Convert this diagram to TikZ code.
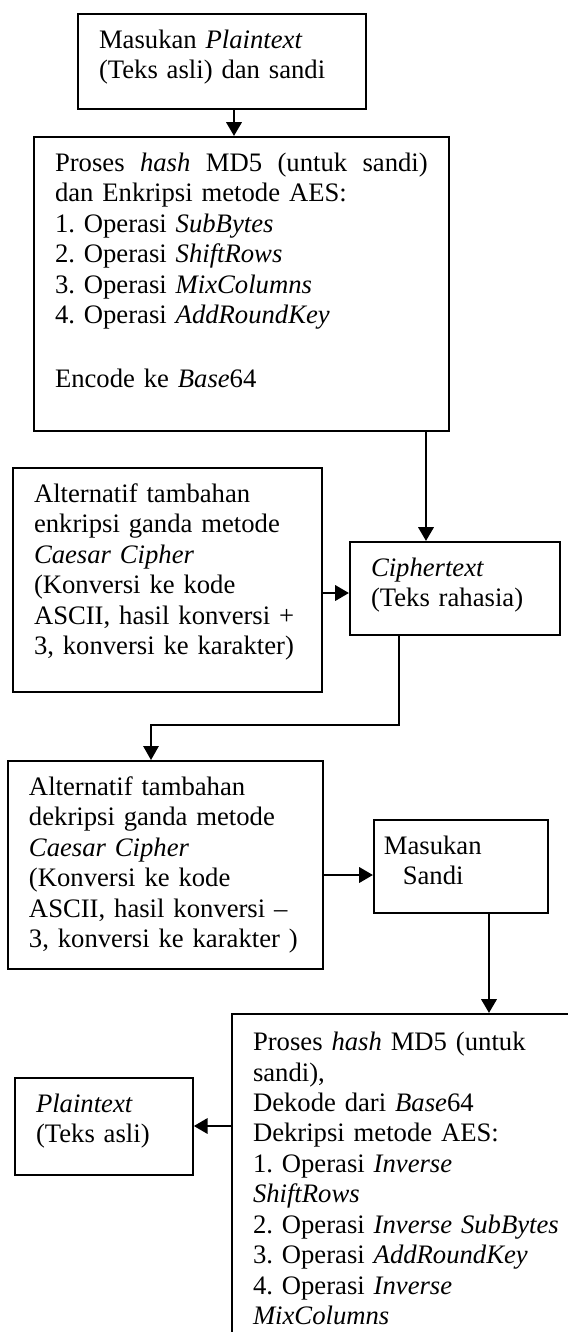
\documentclass[tikz,border=0pt]{standalone}
\usepackage{fontspec}
\setmainfont{Liberation Serif}
\usetikzlibrary{arrows.meta,positioning,calc}
\frenchspacing

\begin{document}
\begin{tikzpicture}[
    x=0.45pt, y=-0.45pt,
    box/.style={draw, line width=0.8pt, anchor=north west, align=left, inner xsep=9.5pt, inner ysep=0pt, text height=15.5pt, font=\fontsize{12}{13.7}\selectfont},
    arrow/.style={-{Triangle[length=6.2pt,width=6.8pt]}, line width=1.3pt},
]
\useasboundingbox (0,0) rectangle (568,1332);
\clip (0,0) rectangle (568,1332);

\node[box, text width=110.6pt, text depth=27.25pt] (inp) at (77,13) {Masukan \textit{Plaintext}\\(Teks asli) dan sandi};
\node[box, text width=167.75pt, text depth=116.8pt] (enc) at (33,136) {Proses\hfill\textit{hash}\hfill MD5\hfill(untuk\hfill sandi)\\dan Enkripsi metode AES:\\1. Operasi \textit{SubBytes}\\2. Operasi \textit{ShiftRows}\\3. Operasi \textit{MixColumns}\\4. Operasi \textit{AddRoundKey}\\[15pt]Encode ke \textit{Base}64};
\node[box, text width=120pt, text depth=85.3pt] (cce) at (12,467) {Alternatif tambahan\\enkripsi ganda metode\\\textit{Caesar Cipher}\\(Konversi ke kode\\ASCII, hasil konversi +\\3, konversi ke karakter)};
\node[box, text width=75.5pt, text depth=26.35pt] (ct) at (349,541) {\textit{Ciphertext}\\(Teks rahasia)};
\node[box, text width=122.75pt, text depth=78.1pt] (ccd) at (7,760) {Alternatif tambahan\\dekripsi ganda metode\\\textit{Caesar Cipher}\\(Konversi ke kode\\ASCII, hasil konversi --\\3, konversi ke karakter )};
\node[box, inner xsep=4.5pt, text width=69.3pt, text depth=26.35pt] (key) at (373,819) {Masukan\\\hspace*{8.5pt}Sandi};
\node[box, text width=156pt, text height=16.5pt, text depth=157.5pt] (dec) at (231,1013) {Proses \textit{hash} MD5 (untuk\\sandi),\\Dekode dari \textit{Base}64\\Dekripsi metode AES:\\1. Operasi \textit{Inverse}\\\textit{ShiftRows}\\2. Operasi \textit{Inverse SubBytes}\\3. Operasi \textit{AddRoundKey}\\4. Operasi \textit{Inverse}\\\textit{MixColumns}};
\node[box, text width=61.1pt, text depth=28.15pt] (pt) at (14,1077) {\textit{Plaintext}\\(Teks asli)};

\draw[arrow] (234,0 |- inp.south) -- (234,0 |- enc.north);
\draw[arrow] (426,0 |- enc.south) -- (426,0 |- ct.north);
\draw[arrow] (cce.east |- 0,593) -- (ct.west |- 0,593);
\draw[arrow, line width=0.9pt] (399,0 |- ct.south) -- (399,725) -| (151,0 |- ccd.north);
\draw[arrow] (ccd.east |- 0,875) -- (key.west |- 0,875);
\draw[arrow] (489,0 |- key.south) -- (489,0 |- dec.north);
\draw[arrow] (dec.west |- 0,1126) -- (pt.east |- 0,1126);
\end{tikzpicture}
\end{document}
